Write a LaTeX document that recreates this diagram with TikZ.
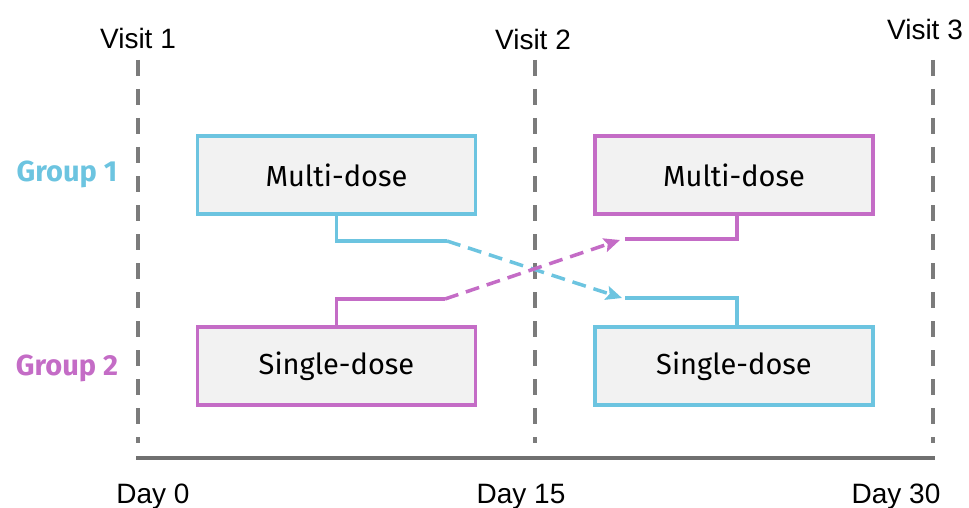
\documentclass[tikz,border=0pt]{standalone}
\usepackage{fontspec}
\setmainfont{Liberation Sans}
\newfontfamily\boxfont{Fira Sans}
\usetikzlibrary{arrows.meta}
\definecolor{cblue}{HTML}{6CC4E0}
\definecolor{cmag}{HTML}{C46CC6}
\definecolor{cgray}{HTML}{7B7B7B}
\definecolor{caxis}{HTML}{707070}
\definecolor{cfill}{HTML}{F2F2F2}
\begin{document}
\begin{tikzpicture}[x=1pt,y=-1pt,
  dosebox/.style={draw, line width=3.5pt, fill=cfill, minimum width=278pt, minimum height=78pt, inner sep=0pt, font=\boxfont\fontsize{29}{34}\selectfont, text=black},
  visitline/.style={draw=cgray, line width=3.5pt, dash pattern=on 16pt off 13pt},
  lbl/.style={font=\fontsize{28}{32}\selectfont, anchor=base, inner sep=0pt},
  grp/.style={font=\boxfont\bfseries\fontsize{29}{33}\selectfont, anchor=base, inner sep=0pt},
  link/.style={line width=3.5pt},
  swap/.style={line width=3.5pt, dash pattern=on 14pt off 8pt, -{Stealth[length=16pt,width=14pt,inset=3pt]}},
]
\useasboundingbox (0,0) rectangle (969,508);
% time markers
\coordinate (v1t) at (138,60); \coordinate (v1b) at (138,443);
\coordinate (v2t) at (535,60); \coordinate (v2b) at (535,443);
\coordinate (v3t) at (933,60); \coordinate (v3b) at (933,443);
\draw[visitline] (v1t) -- (v1b);
\draw[visitline] (v2t) -- (v2b);
\draw[visitline] (v3t) -- (v3b);
\coordinate (ax1) at (136,458); \coordinate (ax2) at (935,458);
\draw[draw=caxis, line width=3.5pt] (ax1) -- (ax2);
% labels
\node[lbl] (vis1) at (138,49) {Visit 1};
\node[lbl] (vis2) at (533,50) {Visit 2};
\node[lbl] (vis3) at (925,40) {Visit 3};
\node[lbl] (day0) at (153,503) {Day 0};
\node[lbl] (day15) at (521,503) {Day 15};
\node[lbl] (day30) at (896,503) {Day 30};
\node[grp, text=cblue] (g1) at (67,181) {Group 1};
\node[grp, text=cmag] (g2) at (67,375) {Group 2};
% boxes
\node[dosebox, draw=cblue] (mdL) at (336.5,175) {Multi-dose};
\node[dosebox, draw=cmag] (sdL) at (336.5,366) {Single-dose};
\node[dosebox, draw=cmag] (mdR) at (734,175) {Multi-dose};
\node[dosebox, draw=cblue] (sdR) at (734,366) {Single-dose};
% group 1 crossover
\coordinate (b1) at (447,241);
\coordinate (b2) at (622,298);
\coordinate (b3) at (625,298);
\coordinate (b4) at (737,298);
\draw[link, cblue] (mdL.south) |- (b1);
\draw[swap, cblue] (b1) -- (b2);
\draw[link, cblue] (b3) -- (b4) -- (b4 |- sdR.north);
% group 2 crossover
\coordinate (m1) at (445,299);
\coordinate (m2) at (620,240);
\coordinate (m3) at (625,239);
\coordinate (m4) at (737,239);
\draw[link, cmag] (sdL.north) |- (m1);
\draw[swap, cmag] (m1) -- (m2);
\draw[link, cmag] (m3) -- (m4) -- (m4 |- mdR.south);
\end{tikzpicture}
\end{document}
